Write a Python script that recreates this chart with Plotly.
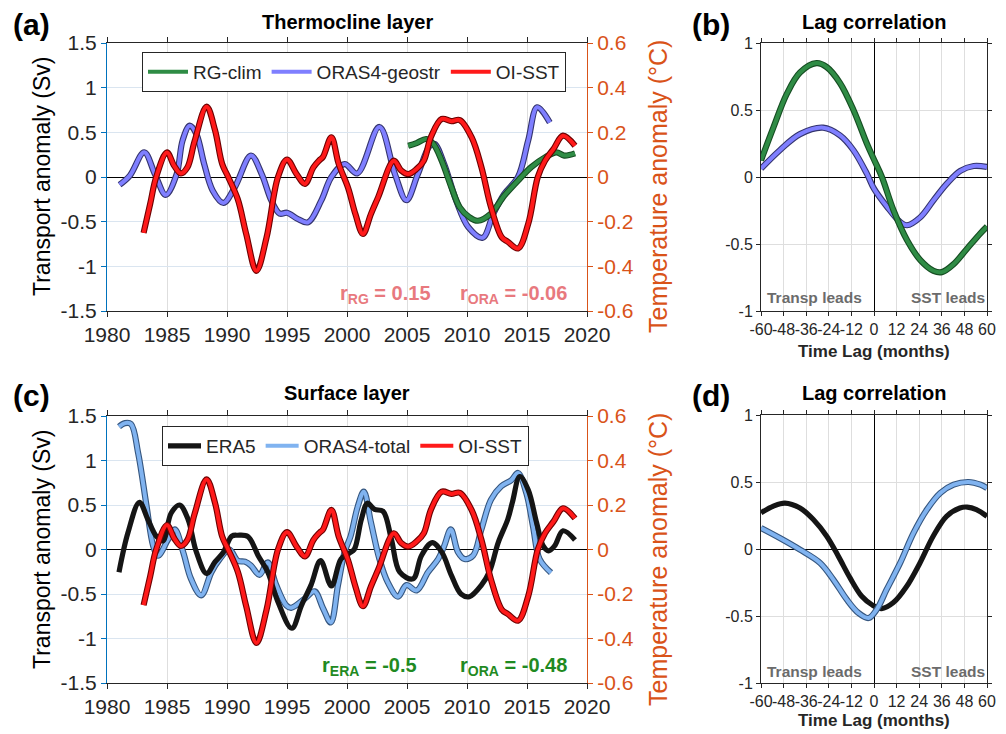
import plotly.graph_objects as go

W, H = 1006, 734
def px(x):
    return x / W
def py(y):
    return 1 - y / H

FONT = "Liberation Sans, Arial, sans-serif"
DARK = "#262626"
ORANGE = "#D95319"
LBLUE_AX = "#0072BD"

# ---------------- data ----------------
# OI-SST temperature anomaly (degC), shared by panels (a) and (c)
oisst_year = [1983.05, 1983.6, 1984.1, 1985.0, 1985.6, 1986.15, 1986.7, 1987.3, 1988.3, 1989.0,
              1989.6, 1990.1, 1990.9, 1991.6, 1992.45, 1993.3, 1994.25, 1995.0, 1995.8, 1996.5,
              1997.2, 1997.7, 1998.0, 1998.7, 1999.3, 2000.1, 2000.7, 2001.33, 2002.0, 2002.6,
              2003.9, 2004.5, 2005.1, 2005.8, 2006.4, 2007.0, 2007.9, 2008.7, 2009.4, 2010.4,
              2011.2, 2012.0, 2012.9, 2013.4, 2014.25, 2015.1, 2015.9, 2016.5, 2017.2, 2018.0, 2019.0]
oisst_temp = [-0.25, -0.12, 0.0, 0.11, 0.05, 0.016, 0.043, 0.16, 0.315, 0.21,
              0.058, 0.0, -0.1, -0.255, -0.42, -0.27, 0.0, 0.078, 0.013, -0.031,
              0.043, 0.075, 0.09, 0.178, 0.06, -0.05, -0.166, -0.255, -0.165, -0.09,
              0.073, 0.03, 0.013, 0.036, 0.073, 0.18, 0.26, 0.25, 0.255, 0.176,
              0.044, -0.135, -0.27, -0.29, -0.32, -0.21, 0.0, 0.073, 0.125, 0.185, 0.14]

# ORAS4-geostr transport anomaly (Sv), panel (a)
geostr_year = [1981.05, 1981.9, 1983.1, 1984.0, 1984.9, 1985.8, 1986.3, 1986.9, 1987.45, 1988.1,
               1988.8, 1989.7, 1990.65, 1992.0, 1992.9, 1993.7, 1994.4, 1995.0, 1995.9, 1996.75,
               1997.85, 1998.7, 1999.8, 2000.85, 2002.7, 2004.0, 2004.95, 2005.9, 2006.9, 2007.3,
               2008.1, 2009.1, 2010.1, 2011.3, 2012.2, 2013.1, 2014.25, 2015.1, 2015.85, 2016.9]
geostr_sv = [-0.086, 0.015, 0.276, 0.03, -0.2, 0.03, 0.41, 0.575, 0.48, 0.145,
             -0.15, -0.29, -0.115, 0.24, 0.03, -0.265, -0.41, -0.40, -0.47, -0.507,
             -0.265, 0.0, 0.145, 0.04, 0.56, 0.03, -0.26, 0.03, 0.35, 0.37,
             0.145, -0.265, -0.56, -0.68, -0.41, -0.19, 0.0, 0.41, 0.78, 0.61]

# RG-clim transport anomaly (Sv), panel (a)
rg_year = [2005.1, 2005.8, 2006.6, 2007.2, 2007.9, 2008.7, 2009.4, 2010.2, 2010.9, 2012.0,
           2013.1, 2014.25, 2015.35, 2016.5, 2017.45, 2018.1, 2019.0]
rg_sv = [0.35, 0.38, 0.425, 0.37, 0.18, -0.115, -0.34, -0.45, -0.49, -0.41,
         -0.21, -0.04, 0.11, 0.22, 0.276, 0.24, 0.265]

# ERA5 transport anomaly (Sv), panel (c)
era_year = [1981.0, 1981.75, 1982.7, 1983.4, 1984.1, 1984.65, 1985.35, 1986.05, 1986.75, 1987.45,
            1988.3, 1989.0, 1989.7, 1990.4, 1990.9, 1991.75, 1992.6, 1993.4, 1994.25, 1995.4,
            1996.2, 1997.0, 1997.8, 1998.7, 1999.5, 2000.2, 2000.6, 2001.2, 2001.7, 2002.3,
            2003.0, 2003.7, 2004.4, 2005.5, 2006.2, 2007.1, 2007.9, 2008.7, 2009.5, 2010.2,
            2011.2, 2011.9, 2012.6, 2013.4, 2013.8, 2014.4, 2015.1, 2015.8, 2016.35, 2016.8,
            2017.3, 2018.0, 2019.0]
era_sv = [-0.255, 0.19, 0.53, 0.34, 0.15, 0.096, 0.41, 0.5, 0.34, -0.03,
          -0.27, -0.14, -0.03, 0.15, 0.16, 0.145, -0.07, -0.255, -0.59, -0.885,
          -0.63, -0.4, -0.126, -0.41, -0.107, -0.04, 0.0, 0.34, 0.52, 0.45,
          0.43, 0.115, -0.255, -0.33, -0.07, 0.078, -0.03, -0.29, -0.5, -0.53,
          -0.4, -0.24, 0.078, 0.34, 0.54, 0.82, 0.67, 0.3, 0.04, -0.015,
          0.04, 0.21, 0.107]

# ORAS4-total transport anomaly (Sv), panel (c)
tot_year = [1981.0, 1981.5, 1982.0, 1982.6, 1983.3, 1983.85, 1984.25, 1985.1, 1985.65, 1986.35,
            1987.0, 1987.85, 1988.7, 1989.4, 1990.2, 1990.9, 1991.5, 1992.0, 1992.7, 1993.4,
            1994.1, 1994.95, 1995.35, 1996.5, 1997.3, 1998.0, 1998.65, 1999.25, 1999.8, 2000.3,
            2000.9, 2001.4, 2002.0, 2002.7, 2003.4, 2004.25, 2004.95, 2005.8, 2006.75, 2007.6,
            2008.1, 2008.65, 2009.25, 2009.8, 2010.5, 2011.2, 2012.0, 2012.85, 2013.7, 2014.25,
            2014.95, 2015.5, 2016.05, 2017.0]
tot_sv = [1.38, 1.42, 1.41, 1.08, 0.485, 0.04, -0.07, 0.115, 0.226, -0.03,
          -0.33, -0.515, -0.255, -0.107, 0.0, -0.126, -0.137, -0.18, -0.285, -0.145,
          -0.4, -0.63, -0.655, -0.55, -0.47, -0.66, -0.82, -0.4, -0.03, 0.15,
          0.485, 0.65, 0.3, -0.107, -0.37, -0.53, -0.4, -0.46, -0.255, -0.107,
          0.04, 0.226, -0.03, -0.107, -0.07, 0.226, 0.56, 0.71, 0.78, 0.86,
          0.63, 0.26, -0.107, -0.26]

# Lag correlations (months, r)
lagb_rg_lag = [-60, -53.4, -46.3, -39.3, -30.5, -25.1, -18, -10.9, -3.8, 0,
               4.2, 10.4, 17.5, 24.6, 31.6, 36, 42.3, 49.4, 56.5, 60]
lagb_rg_r = [0.124, 0.37, 0.62, 0.78, 0.85, 0.82, 0.70, 0.5, 0.25, 0.13,
             0.0, -0.25, -0.47, -0.62, -0.70, -0.71, -0.65, -0.535, -0.42, -0.37]
lagb_ora_lag = [-60, -50, -39.3, -27, -18, -10.9, -3.8, 0, 6.8, 13.9,
                17.5, 24.6, 31.6, 38.7, 45.8, 52.9, 60]
lagb_ora_r = [0.062, 0.2, 0.32, 0.368, 0.31, 0.2, 0.025, -0.087, -0.22, -0.336,
              -0.36, -0.3, -0.174, -0.05, 0.045, 0.082, 0.075]
lagd_era_lag = [-60, -53.4, -47.3, -39.3, -32.2, -25.1, -18.9, -12.7, -6.5, -1.2,
                4.1, 10.3, 17.3, 24.4, 31.4, 38.5, 45.6, 49.5, 54.4, 60]
lagd_era_r = [0.27, 0.32, 0.343, 0.306, 0.22, 0.095, -0.055, -0.216, -0.353, -0.415,
              -0.445, -0.40, -0.28, -0.104, 0.095, 0.244, 0.306, 0.313, 0.294, 0.244]
lagd_ora_lag = [-60, -50, -39.3, -28.6, -21.5, -14.4, -8.2, -2.9, 1.5, 6.8,
                13.9, 21, 28.1, 35.2, 42.3, 50.2, 56.5, 60]
lagd_ora_r = [0.157, 0.082, -0.005, -0.104, -0.23, -0.378, -0.478, -0.515, -0.45, -0.30,
              -0.104, 0.12, 0.294, 0.418, 0.48, 0.5, 0.48, 0.455]

# ticks
year_ticks = [1980, 1985, 1990, 1995, 2000, 2005, 2010, 2015, 2020]
sv_ticks = [-1.5, -1, -0.5, 0, 0.5, 1, 1.5]
sv_labels = ["-1.5", "-1", "-0.5", "0", "0.5", "1", "1.5"]
temp_ticks = [-0.6, -0.4, -0.2, 0, 0.2, 0.4, 0.6]
temp_labels = ["-0.6", "-0.4", "-0.2", "0", "0.2", "0.4", "0.6"]
lag_ticks = [-60, -48, -36, -24, -12, 0, 12, 24, 36, 48, 60]
lag_labels = ["-60", "-48", "-36", "-24", "-12", "0", "12", "24", "36", "48", "60"]
r_ticks = [-1, -0.5, 0, 0.5, 1]
r_labels = ["-1", "-0.5", "0", "0.5", "1"]

# colours
C_RED, C_RED_E = "#ff1a1a", "#6e0000"
C_GEO, C_GEO_E = "#7f7fff", "#34346e"
C_RG, C_RG_E = "#2f8c45", "#164d22"
C_TOT, C_TOT_E = "#80b3f0", "#35567f"
C_ERA = "#151515"

fig = go.Figure()

def outlined(x, y, xa, ya, core, edge, name=None, legend=None, rank=None, wcore=4.0, wedge=6.2):
    fig.add_trace(go.Scatter(x=x, y=y, xaxis=xa, yaxis=ya, mode="lines",
                             line=dict(color=edge, width=wedge, shape="spline", smoothing=1.0),
                             showlegend=False, hoverinfo="skip"))
    fig.add_trace(go.Scatter(x=x, y=y, xaxis=xa, yaxis=ya, mode="lines",
                             line=dict(color=core, width=wcore, shape="spline", smoothing=1.0),
                             name=name, showlegend=name is not None,
                             legend=legend, legendrank=rank))

# panel (a)
outlined(geostr_year, geostr_sv, "x", "y", C_GEO, C_GEO_E, "ORAS4-geostr", "legend", 2)
outlined(rg_year, rg_sv, "x", "y", C_RG, C_RG_E, "RG-clim", "legend", 1)
outlined(oisst_year, oisst_temp, "x", "y2", C_RED, C_RED_E, "OI-SST", "legend", 3)

# panel (c)
outlined(tot_year, tot_sv, "x3", "y4", C_TOT, C_TOT_E, "ORAS4-total", "legend2", 2)
fig.add_trace(go.Scatter(x=era_year, y=era_sv, xaxis="x3", yaxis="y4", mode="lines",
                         line=dict(color=C_ERA, width=5.2, shape="spline", smoothing=1.0),
                         name="ERA5", legend="legend2", legendrank=1))
outlined(oisst_year, oisst_temp, "x3", "y5", C_RED, C_RED_E, "OI-SST", "legend2", 3)

# panel (b)
outlined(lagb_ora_lag, lagb_ora_r, "x2", "y3", C_GEO, C_GEO_E)
outlined(lagb_rg_lag, lagb_rg_r, "x2", "y3", C_RG, C_RG_E)

# panel (d)
fig.add_trace(go.Scatter(x=lagd_era_lag, y=lagd_era_r, xaxis="x4", yaxis="y6", mode="lines",
                         line=dict(color=C_ERA, width=5.2, shape="spline", smoothing=1.0),
                         showlegend=False))
outlined(lagd_ora_lag, lagd_ora_r, "x4", "y6", C_TOT, C_TOT_E)

# ---------------- axes ----------------
GRID_X = "#dedede"
GRID_Y = "#dae5f0"

def xaxis_time(anchor):
    return dict(domain=[px(107), px(587)], anchor=anchor, range=[1980, 2020],
                tickvals=year_ticks, ticktext=[str(t) for t in year_ticks],
                ticks="outside", ticklen=5, tickcolor=DARK, showline=True, linecolor=DARK,
                linewidth=1, mirror="ticks", showgrid=True, gridcolor=GRID_X, zeroline=False,
                tickangle=0, automargin=False,
                tickfont=dict(family=FONT, size=21, color=DARK))

def yaxis_sv(anchor, y0, y1):
    return dict(domain=[py(y1), py(y0)], anchor=anchor, range=[-1.5, 1.5],
                tickvals=sv_ticks, ticktext=sv_labels, ticks="outside", ticklen=5,
                tickcolor=LBLUE_AX, showline=True, linecolor=LBLUE_AX, linewidth=1,
                showgrid=True, gridcolor=GRID_Y, zeroline=True, zerolinecolor="#000000",
                zerolinewidth=1, automargin=False,
                tickfont=dict(family=FONT, size=21, color=DARK))

def yaxis_temp(overlay, anchor):
    return dict(overlaying=overlay, side="right", anchor=anchor, range=[-0.6, 0.6],
                tickvals=temp_ticks, ticktext=temp_labels, ticks="outside", ticklen=5,
                tickcolor=ORANGE, showline=True, linecolor=ORANGE, linewidth=1,
                showgrid=False, zeroline=False, automargin=False,
                tickfont=dict(family=FONT, size=21, color=ORANGE))

def xaxis_lag(anchor):
    return dict(domain=[px(761), px(987)], anchor=anchor, range=[-60, 60],
                tickvals=lag_ticks, ticktext=lag_labels, ticks="outside", ticklen=4,
                tickcolor=DARK, showline=True, linecolor=DARK, linewidth=1, mirror="ticks",
                showgrid=True, gridcolor=GRID_X, zeroline=True, zerolinecolor="#000000",
                zerolinewidth=1, tickangle=0, automargin=False,
                tickfont=dict(family=FONT, size=16, color=DARK))

def yaxis_lag(anchor, y0, y1):
    return dict(domain=[py(y1), py(y0)], anchor=anchor, range=[-1, 1],
                tickvals=r_ticks, ticktext=r_labels, ticks="outside", ticklen=4,
                tickcolor=DARK, showline=True, linecolor=DARK, linewidth=1, mirror="ticks",
                showgrid=True, gridcolor=GRID_X, zeroline=True, zerolinecolor="#000000",
                zerolinewidth=1, automargin=False,
                tickfont=dict(family=FONT, size=16, color=DARK))

layout = dict(
    width=W, height=H, autosize=False,
    margin=dict(l=0, r=0, t=0, b=0, autoexpand=False),
    paper_bgcolor="white", plot_bgcolor="white",
    font=dict(family=FONT, color=DARK),
    xaxis=xaxis_time("y"),
    yaxis=yaxis_sv("x", 43, 311),
    yaxis2=yaxis_temp("y", "x"),
    xaxis2=xaxis_lag("y3"),
    yaxis3=yaxis_lag("x2", 43, 311),
    xaxis3=xaxis_time("y4"),
    yaxis4=yaxis_sv("x3", 416, 683),
    yaxis5=yaxis_temp("y4", "x3"),
    xaxis4=xaxis_lag("y6"),
    yaxis6=yaxis_lag("x4", 415, 683),
    legend=dict(x=px(142), y=py(52), xanchor="left", yanchor="top", orientation="h",
                bordercolor=DARK, borderwidth=1, bgcolor="white", itemwidth=40,
                font=dict(family=FONT, size=19, color=DARK), traceorder="normal"),
    legend2=dict(x=px(162), y=py(426), xanchor="left", yanchor="top", orientation="h",
                 bordercolor=DARK, borderwidth=1, bgcolor="white", itemwidth=33,
                 font=dict(family=FONT, size=19, color=DARK), traceorder="normal"),
    hovermode=False,
)
fig.update_layout(**layout)

# ---------------- annotations ----------------
def ann(text, x, y, size, color=DARK, xanchor="center", yanchor="middle", angle=0):
    fig.add_annotation(text=text, x=px(x), y=py(y), xref="paper", yref="paper",
                       showarrow=False, xanchor=xanchor, yanchor=yanchor, textangle=angle,
                       font=dict(family=FONT, size=size, color=color))

for lab, x, y in [("(a)", 32, 24), ("(b)", 711, 24), ("(c)", 32, 395), ("(d)", 711, 395)]:
    ann("<b>%s</b>" % lab, x, y, 30, "#000000")

ann("<b>Thermocline layer</b>", 347, 22, 20, "#000000")
ann("<b>Surface layer</b>", 347, 393, 20, "#000000")
ann("<b>Lag correlation</b>", 874, 22, 20, "#000000")
ann("<b>Lag correlation</b>", 874, 393, 20, "#000000")

ann("Transport anomaly (Sv)", 42, 177, 23, "#000000", angle=-90)
ann("Transport anomaly (Sv)", 42, 550, 23, "#000000", angle=-90)
ann("Temperature anomaly (°C)", 658, 187, 25, ORANGE, angle=-90)
ann("Temperature anomaly (°C)", 658, 560, 25, ORANGE, angle=-90)

ann("<b>Time Lag (months)</b>", 874, 351, 17, DARK)
ann("<b>Time Lag (months)</b>", 874, 720, 17, DARK)

GRAY_T = "#6b6b6b"
for yy in (297, 671):
    ann("<b>Transp leads</b>", 765, yy, 15.5, GRAY_T, xanchor="left")
    ann("<b>SST leads</b>", 987, yy, 15.5, GRAY_T, xanchor="right")

PINK = "#e8797e"
GREEN_T = "#1f8a22"
ann("<b>r<sub>RG</sub> = 0.15</b>", 338, 294, 20, PINK, xanchor="left")
ann("<b>r<sub>ORA</sub> = -0.06</b>", 458, 294, 20, PINK, xanchor="left")
ann("<b>r<sub>ERA</sub> = -0.5</b>", 320, 666, 20, GREEN_T, xanchor="left")
ann("<b>r<sub>ORA</sub> = -0.48</b>", 458, 666, 20, GREEN_T, xanchor="left")

fig.write_html("out.html")
